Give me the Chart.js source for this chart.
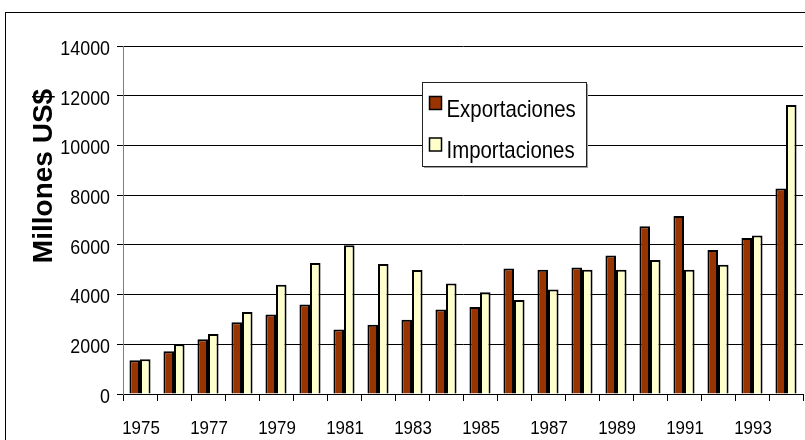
<!DOCTYPE html>
<html>
<head>
<meta charset="utf-8">
<script src="https://cdn.jsdelivr.net/npm/chart.js@4.4.1/dist/chart.umd.min.js"></script>
<style>
  html, body { margin: 0; padding: 0; background: #fff; overflow: hidden; }
  #wrap { position: relative; width: 805px; height: 440px; }
</style>
</head>
<body>
<div id="wrap"><canvas id="c" width="805" height="440"></canvas></div>
<script>
const years = ['1975','1976','1977','1978','1979','1980','1981','1982','1983','1984',
               '1985','1986','1987','1988','1989','1990','1991','1992','1993','1994'];
const exportaciones = [1360, 1720, 2200, 2890, 3200, 3600, 2590, 2790, 2990, 3400,
                       3500, 5050, 5000, 5090, 5570, 6750, 7160, 5790, 6280, 8270];
const importaciones = [1400, 2000, 2410, 3300, 4400, 5270, 5980, 5230, 4990, 4450,
                       4090, 3780, 4200, 5000, 5000, 5390, 5000, 5200, 6380, 11630];
const seriesNames = ['Exportaciones', 'Importaciones'];
const yTitle = 'Millones US$';
const yMin = 0, yMax = 14000, yStep = 2000;

const regular = "'Liberation Sans', Arial, sans-serif";

// Arial-narrow-like text: regular face, horizontally condensed
function narrowText(ctx, text, x, y, size, sx, align, baseline) {
  ctx.save();
  ctx.translate(x, y);
  ctx.scale(sx, 1);
  ctx.font = size + 'px ' + regular;
  ctx.fillStyle = '#000';
  ctx.textAlign = align;
  ctx.textBaseline = baseline;
  ctx.fillText(text, 0, 0);
  ctx.restore();
}

const framePlugin = {
  id: 'frame',
  beforeDraw(chart) {
    const ctx = chart.ctx;
    ctx.save();
    ctx.fillStyle = '#fff';
    ctx.fillRect(0, 0, chart.width, chart.height);
    ctx.strokeStyle = '#000';
    ctx.lineWidth = 1;
    ctx.strokeRect(5.5, 12.5, 900, 500);
    ctx.restore();
  }
};

const labelsPlugin = {
  id: 'narrowLabels',
  afterDraw(chart) {
    const ctx = chart.ctx;
    const ys = chart.scales.y, xs = chart.scales.x;
    ys.ticks.forEach(t => {
      const py = ys.getPixelForValue(t.value);
      narrowText(ctx, String(t.value), 110, py + 3, 21, 0.85, 'right', 'middle');
    });
    xs.ticks.forEach((t, i) => {
      if (i % 2 !== 0) return;
      const px = xs.getPixelForValue(i);
      narrowText(ctx, years[i], px + 1, 428.5, 19, 0.89, 'center', 'middle');
    });
    // axis title
    ctx.save();
    ctx.translate(44, 176);
    ctx.rotate(-Math.PI / 2);
    ctx.font = 'bold 28px ' + regular;
    ctx.fillStyle = '#000';
    ctx.textAlign = 'center';
    ctx.textBaseline = 'middle';
    ctx.fillText(yTitle, 0, 0);
    ctx.restore();
  }
};

const legendPlugin = {
  id: 'boxLegend',
  afterDraw(chart) {
    const ctx = chart.ctx;
    const x = 422.5, y = 82.5, w = 164, h = 84;
    ctx.save();
    ctx.fillStyle = '#a0a0a0';
    ctx.fillRect(x + 1.5, y + 1.5, w, h);
    ctx.fillStyle = '#fff';
    ctx.fillRect(x, y, w, h);
    ctx.strokeStyle = '#222';
    ctx.lineWidth = 1;
    ctx.strokeRect(x, y, w, h);
    chart.data.datasets.forEach((ds, i) => {
      const my = 96 + i * 41.5;
      ctx.fillStyle = ds.backgroundColor;
      ctx.fillRect(429.5, my + 0.5, 12, 13);
      ctx.strokeStyle = '#000';
      ctx.lineWidth = 1.5;
      ctx.strokeRect(429.5, my + 0.5, 12, 13);
      narrowText(ctx, ds.label, 446.5, 116.5 + i * 41.5, 24, 0.85, 'left', 'alphabetic');
    });
    ctx.restore();
  }
};

new Chart(document.getElementById('c'), {
  type: 'bar',
  data: {
    labels: years,
    datasets: [
      { label: seriesNames[0], data: exportaciones, backgroundColor: '#993300',
        borderColor: '#000', borderWidth: 2, borderSkipped: 'start' },
      { label: seriesNames[1], data: importaciones, backgroundColor: '#FFFFCC',
        borderColor: '#000', borderWidth: 2, borderSkipped: 'start' }
    ]
  },
  options: {
    responsive: false,
    animation: false,
    devicePixelRatio: 1,
    barPercentage: 1,
    categoryPercentage: 0.62,
    layout: { padding: { left: 0, right: 2, top: 46, bottom: 0 } },
    plugins: { legend: { display: false }, tooltip: { enabled: false }, title: { display: false } },
    scales: {
      x: {
        offset: true,
        grid: { display: true, drawOnChartArea: false, drawTicks: true, tickLength: 7,
                color: '#000', lineWidth: 1, offset: true },
        border: { display: true, color: '#000', width: 1 },
        ticks: { display: false, autoSkip: false, maxRotation: 0, minRotation: 0 },
        afterFit(scale) { scale.height = 46; }
      },
      y: {
        min: yMin, max: yMax,
        grid: { color: '#000', lineWidth: 1, tickLength: 6, drawTicks: true },
        border: { display: true, color: '#808080', width: 1 },
        ticks: { display: false, stepSize: yStep },
        afterFit(scale) { scale.width = 123; }
      }
    }
  },
  plugins: [framePlugin, labelsPlugin, legendPlugin]
});
</script>
</body>
</html>
